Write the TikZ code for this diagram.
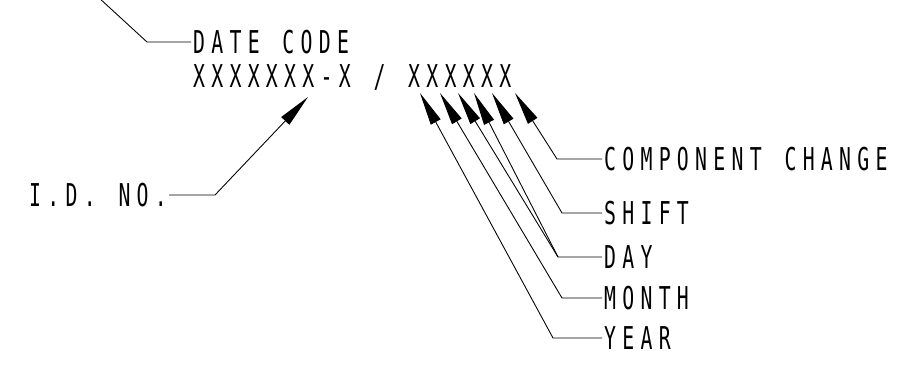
\documentclass[tikz,border=0pt]{standalone}
\usepackage{fontspec}
\newfontfamily\cadfont{DejaVu Sans Mono}[FakeStretch=0.63,LetterSpace=20,WordSpace=1.25]
\usetikzlibrary{arrows.meta}

\begin{document}
\begin{tikzpicture}[x=0.02cm,y=-0.02cm,every node/.style={font=\cadfont\fontsize{17.9}{20}\selectfont,inner sep=1pt}]

% Define styles
\tikzstyle{tag} = [anchor=west]
\tikzstyle{leader} = [draw, line width=0.5pt]
\tikzstyle{pointer} = [leader, -{Triangle[length=0.66cm,width=0.22cm]}]

\useasboundingbox (0,0) rectangle (924,382);

\node [tag] (date) at (191,42) {DATE CODE};
\node [tag] (code) at (191,77) {XXXXXXX-X / XXXXXX};
\node [anchor=east] (idno) at (169,195) {I.D. NO.};

\node [tag] (change) at (602,159) {COMPONENT CHANGE};
\node [tag] (shft) at (602,213) {SHIFT};
\node [tag] (day) at (602,257) {DAY};
\node [tag] (month) at (602,298) {MONTH};
\node [tag] (year) at (602,338) {YEAR};

% tips under the code
\coordinate (tyear) at (420,93);
\coordinate (tmonth) at (440,93);
\coordinate (tday) at (458,93);
\coordinate (tdate) at (474,93);
\coordinate (tshft) at (492,93);
\coordinate (tchange) at (515,93);
\coordinate (tid) at (308,97);

% bends
\coordinate (bdate) at (147,42);
\coordinate (topend) at (98,-3);
\coordinate (bid) at (215,195);
\coordinate (bchange) at (557,159);
\coordinate (bshft) at (562,213);
\coordinate (bday) at (558,257);
\coordinate (bmonth) at (562,298);
\coordinate (byear) at (553,338);

\draw[leader] (date.west) -- (bdate) -- (topend);
\draw[pointer] (idno.east) -- (bid) -- (tid);

\draw[pointer] (change.west) -- (bchange) -- (tchange);
\draw[pointer] (shft.west) -- (bshft) -- (tshft);
\draw[pointer] (day.west) -- (bday) -- (tdate);
\draw[pointer] (bday) -- (tday);
\draw[pointer] (month.west) -- (bmonth) -- (tmonth);
\draw[pointer] (year.west) -- (byear) -- (tyear);

\end{tikzpicture}
\end{document}
